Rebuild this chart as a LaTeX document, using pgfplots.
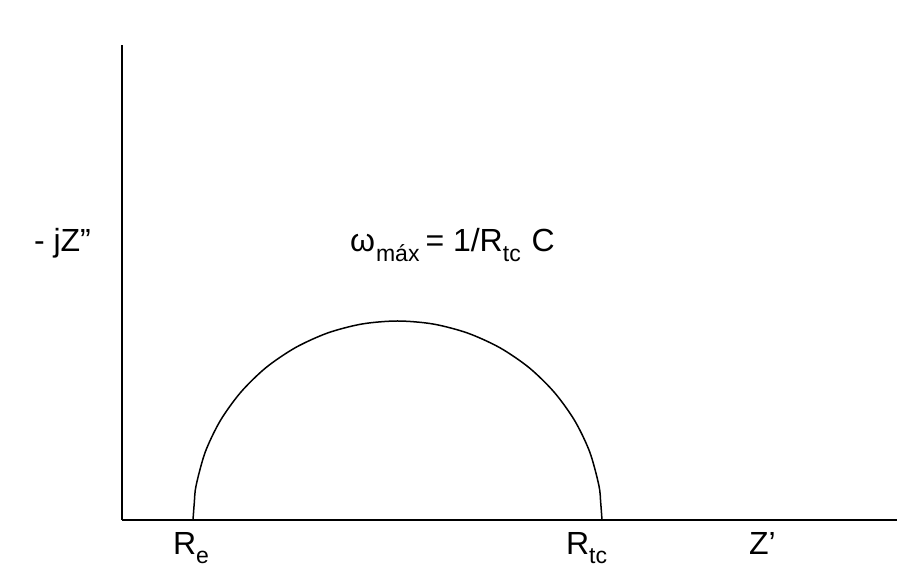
\documentclass[border=0pt]{standalone}
\usepackage{fontspec}
\setmainfont{Liberation Sans}
\usepackage{pgfplots}
\pgfplotsset{compat=1.18}

% lowered subscript set in the text font
\newcommand{\sub}[1]{\raisebox{-0.3em}{\fontsize{11.5}{11.5}\selectfont #1}}

\begin{document}
\begin{tikzpicture}
\begin{axis}[
    x=0.5pt, y=0.5pt,
    scale only axis,
    xmin=122, xmax=897,
    ymin=46, ymax=521,
    axis lines=left,
    axis line style={line width=1pt, -},
    xtick=\empty, ytick=\empty,
    clip=false,
    font=\fontsize{16}{18}\selectfont,
    every node/.style={inner sep=0pt},
]
% Nyquist semicircle of the charge-transfer arc
\addplot[black, line width=0.75pt, smooth] coordinates {
  (602.0,46) (600.7,63.3) (598.9,80.5) (589.7,114.1) (574.6,145.5)
  (554.1,173.9) (529.0,198.4) (499.8,218.3) (467.4,233.0)
  (433.0,242.0) (397.5,245.0) (362.0,242.0) (327.6,233.0)
  (295.3,218.3) (266.0,198.4) (240.9,173.9) (220.4,145.5)
  (205.3,114.1) (196.1,80.5) (194.3,63.3) (193.0,46)
};
\node[anchor=base west] at (axis cs:27,314) {- jZ”};
\node[anchor=base west] at (axis cs:343,314)
  {ω\kern0.5pt\sub{máx}\kern3pt= 1/R\sub{tc}\kern1pt\ C};
\node[anchor=base west] at (axis cs:166,12) {R\sub{e}};
\node[anchor=base west] at (axis cs:559,12) {R\sub{tc}};
\node[anchor=base west] at (axis cs:742,12) {Z’};
\coordinate (BL) at (axis cs:0,0);
\coordinate (TR) at (axis cs:897,566);
\end{axis}
\pgfresetboundingbox
\useasboundingbox (BL) rectangle (TR);
\end{tikzpicture}
\end{document}
